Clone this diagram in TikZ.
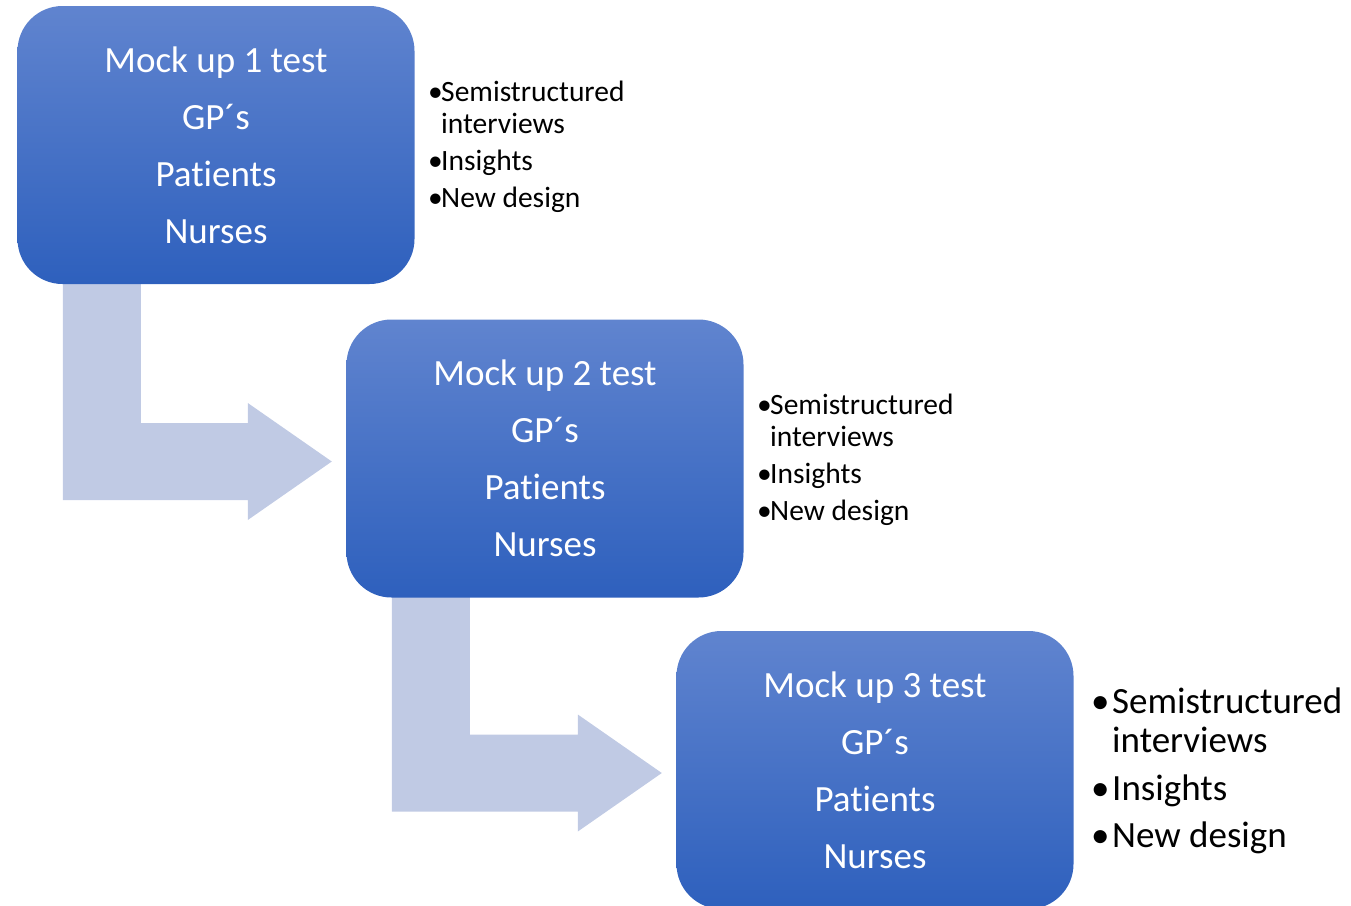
\documentclass[tikz,border=0pt]{standalone}
\usepackage{fontspec}
\setmainfont[Ligatures={NoCommon}]{Carlito}
\usetikzlibrary{calc}
\definecolor{boxtop}{RGB}{96,132,207}
\definecolor{boxbot}{RGB}{46,96,189}
\definecolor{arrowfill}{RGB}{192,202,228}
\tikzset{
  box/.style={rounded corners=45pt, minimum width=397pt, minimum height=278pt,
    top color=boxtop, bottom color=boxbot, draw=none, text=white, align=center,
    font=\fontsize{37}{57}\selectfont, inner sep=0pt},
  bentarrow/.style={fill=arrowfill, draw=none},
  side/.style={anchor=base west, inner sep=0pt, align=left},
  smallside/.style={side, font=\fontsize{29.5}{32}\selectfont},
  bigside/.style={side, font=\fontsize{37}{39}\selectfont},
}
\newcommand\bentarrowshape[2]{%
  \coordinate (pa) at ($(#1.south west)+(45.5,-34)$);
  \coordinate (pb) at ($(#1.south west)+(123.5,-34)$);
  \coordinate (pd) at ($(#2.west)+(-98.5,-35.5)$);
  \coordinate (pe) at ($(#2.west)+(-98.5,-55.5)$);
  \coordinate (pf) at ($(#2.west)+(-14.5,3)$);
  \coordinate (pg) at ($(#2.west)+(-98.5,61.5)$);
  \coordinate (ph) at ($(#2.west)+(-98.5,41.5)$);
  \fill[bentarrow] (pa) -- (pb) -- (pb |- pd) -- (pd) -- (pe) -- (pf)
    -- (pg) -- (ph) -- (pa |- ph) -- cycle;}
\newcommand\bl[1]{\makebox[#1][l]{•}}
\begin{document}
\begin{tikzpicture}[x=1pt,y=-1pt]
\useasboundingbox (0,0) rectangle (1351,905);
\clip (0,0) rectangle (1351,905);
% boxes placed first (invisible) to define anchors
\path (216,145) node[box, opacity=0] (b1p) {}
      (545,458.5) node[box, opacity=0] (b2p) {}
      (875,770) node[box, opacity=0] (b3p) {};
\bentarrowshape{b1p}{b2p}
\bentarrowshape{b2p}{b3p}
\node[box] (b1) at (b1p) {Mock up 1 test\\GP´s\\Patients\\Nurses};
\node[box] (b2) at (b2p) {Mock up 2 test\\GP´s\\Patients\\Nurses};
\node[box] (b3) at (b3p) {Mock up 3 test\\GP´s\\Patients\\Nurses};
\node[smallside] (t1) at (428,101) {\begin{tabular}[t]{@{}l@{}l@{}}\bl{13pt}&Semistructured\\ &interviews\\[5pt]\bl{13pt}&Insights\\[5pt]\bl{13pt}&New design\end{tabular}};
\node[smallside] (t2) at (757,414) {\begin{tabular}[t]{@{}l@{}l@{}}\bl{13pt}&Semistructured\\ &interviews\\[5pt]\bl{13pt}&Insights\\[5pt]\bl{13pt}&New design\end{tabular}};
\node[bigside] (t3) at (1091,713) {\begin{tabular}[t]{@{}l@{}l@{}}\bl{21pt}&Semistructured\\ &interviews\\[9pt]\bl{21pt}&Insights\\[8pt]\bl{21pt}&New design\end{tabular}};
\end{tikzpicture}
\end{document}
